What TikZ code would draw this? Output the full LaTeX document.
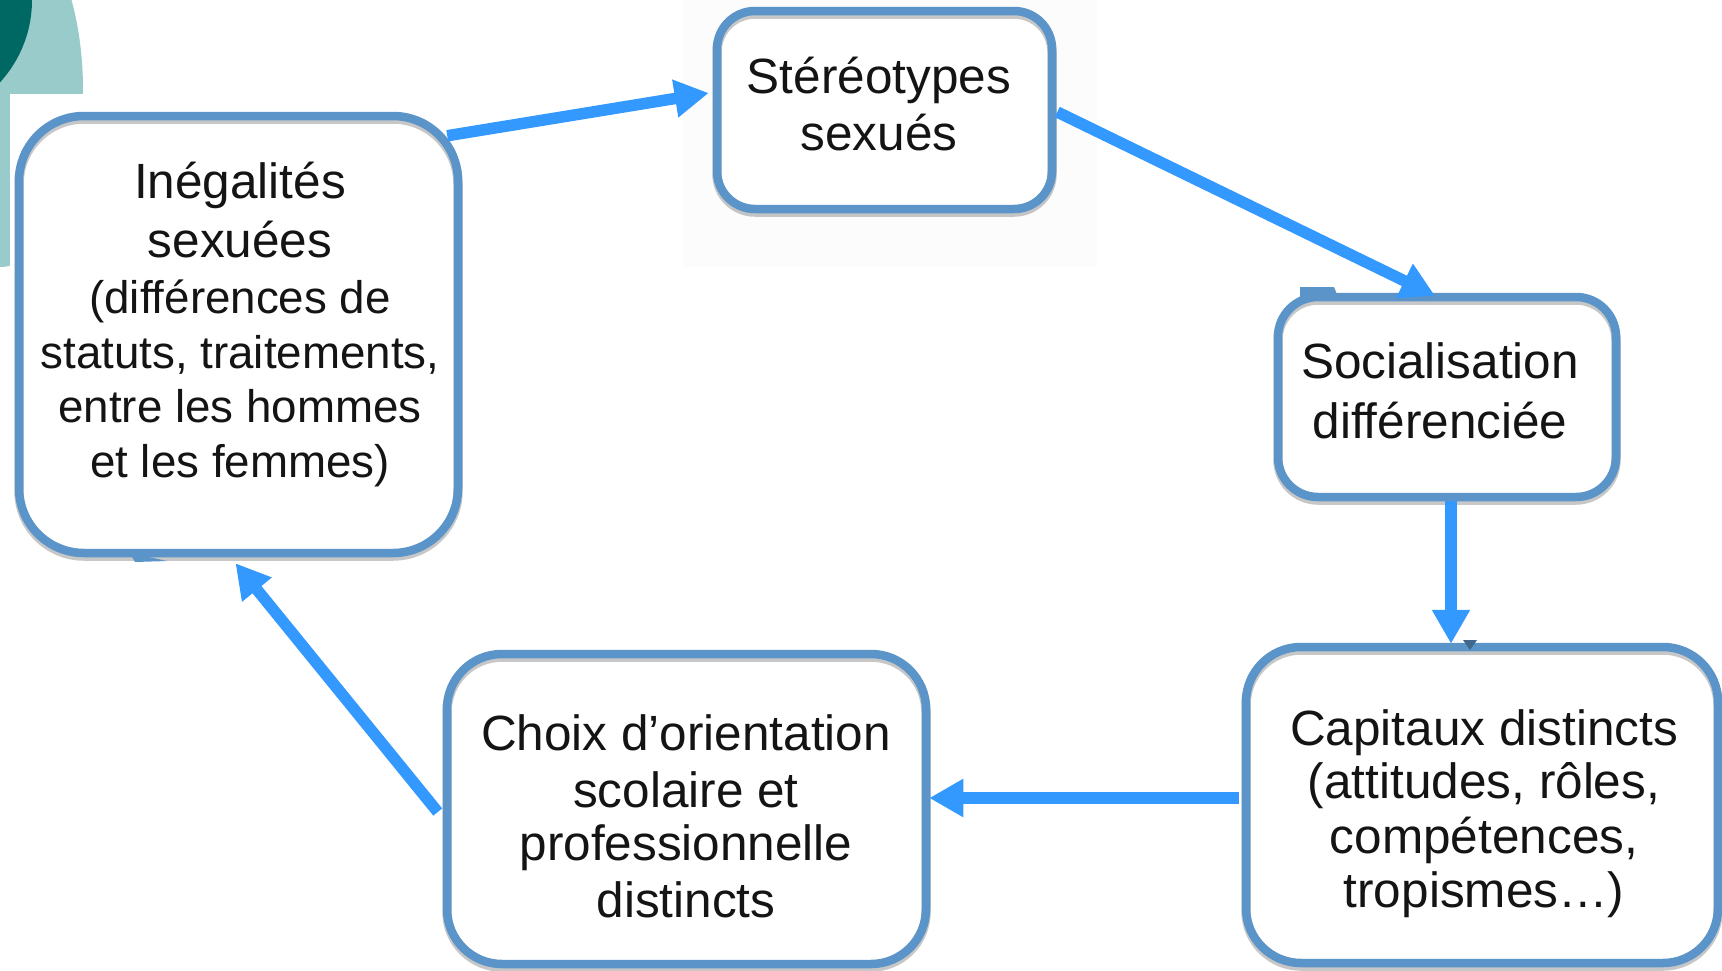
\documentclass[tikz,border=0pt]{standalone}
\usepackage{fontspec}
\setmainfont{Liberation Sans}
\usetikzlibrary{arrows.meta,calc}
\definecolor{bordc}{RGB}{91,148,200}
\definecolor{arrc}{RGB}{51,153,255}
\definecolor{tealdark}{RGB}{0,104,98}
\definecolor{teallight}{RGB}{153,203,203}
\tikzset{
  box/.style={rectangle, inner sep=0pt, line width=8.5pt, draw=bordc,
    preaction={fill=white},
    preaction={draw=black, draw opacity=.22, line width=9.5pt, transform canvas={yshift=-3pt}}},
  lbl/.style={anchor=base, inner sep=0pt, text=black!92, font=\fontsize{49.5}{57}\selectfont},
  lbls/.style={anchor=base, inner sep=0pt, text=black!92, font=\fontsize{45.7}{55}\selectfont},
  arr/.style={draw=arrc, line width=11.5pt, -{Triangle[length=34pt,width=36pt]}},
}
\begin{document}
\begin{tikzpicture}[x=1pt,y=-1pt]
\fill[white] (0,0) rectangle (1722,970);
\useasboundingbox (0,0) rectangle (1722,970);
% decorative teal shapes
\begin{scope}
  \clip (0,0) rectangle (1722,970);
  \fill[teallight] (0,90) ellipse [x radius=83, y radius=177];
  \fill[white] (10,94) rectangle (200,400);
  \fill[tealdark] (-90,0) circle [radius=122];
\end{scope}
% faint background behind the top box
\fill[black!1.2] (683,0) rectangle (1097,267);
% boxes
\node[box, minimum width=439pt, minimum height=437pt, rounded corners=65pt] (b1) at (238.5,334.5) {};
\node[box, minimum width=335pt, minimum height=198pt, rounded corners=38pt] (b2) at (884.5,110) {};
\node[box, minimum width=338pt, minimum height=200pt, rounded corners=40pt] (b3) at (1447,397) {};
\node[box, minimum width=472pt, minimum height=316pt, rounded corners=55pt] (b4) at (1482,805) {};
\node[box, minimum width=479pt, minimum height=310pt, rounded corners=55pt] (b5) at (686.5,809) {};
% small artefacts on borders
\fill[bordc] (1300,287) -- (1334,287) -- (1338,297) -- (1300,298) -- cycle;
\fill[bordc] (130,553) -- (167,561) -- (135,562) -- cycle;
\fill[bordc!70!black] (1463,640) -- (1477,640) -- (1470,650) -- cycle;
% texts
\node[lbl]  (t1a) at (240,198) {Inégalités};
\node[lbl]  (t1b) at (240,257) {sexuées};
\node[lbls] (t1c) at (240,313) {(différences de};
\node[lbls] (t1d) at (240,368) {statuts, traitements,};
\node[lbls] (t1e) at (240,422) {entre les hommes};
\node[lbls] (t1f) at (240,477) {et les femmes)};
\node[lbl] (t2a) at (879,93) {Stéréotypes};
\node[lbl] (t2b) at (879,150) {sexués};
\node[lbl] (t3a) at (1440,378) {Socialisation};
\node[lbl] (t3b) at (1440,438) {différenciée};
\node[lbl] (t4a) at (1484,745) {Capitaux distincts};
\node[lbl] (t4b) at (1484,798) {(attitudes, rôles,};
\node[lbl] (t4c) at (1484,853) {compétences,};
\node[lbl] (t4d) at (1484,907) {tropismes…)};
\node[lbl] (t5a) at (686,750) {Choix d’orientation};
\node[lbl] (t5b) at (686,807) {scolaire et};
\node[lbl] (t5c) at (686,860) {professionnelle};
\node[lbl] (t5d) at (686,917) {distincts};
% arrows
\draw[arr] ([xshift=-15pt,yshift=-24pt]b1.north east) -- ([xshift=-4pt,yshift=17pt]b2.west);
\draw[arr] ([xshift=1pt,yshift=-2pt]b2.east) -- ([xshift=-12pt,yshift=-3pt]b3.north);
\draw[arr] ([xshift=4pt]b3.south) -- ([xshift=-31pt,yshift=-1pt]b4.north);
\draw[arr] ([xshift=-3pt,yshift=7pt]b4.west) -- ([xshift=-1pt,yshift=11pt]b5.east);
\draw[arr] ([xshift=-5pt,yshift=-3pt]b5.west) -- ([xshift=-3pt,yshift=-6pt]b1.south);
\end{tikzpicture}
\end{document}
